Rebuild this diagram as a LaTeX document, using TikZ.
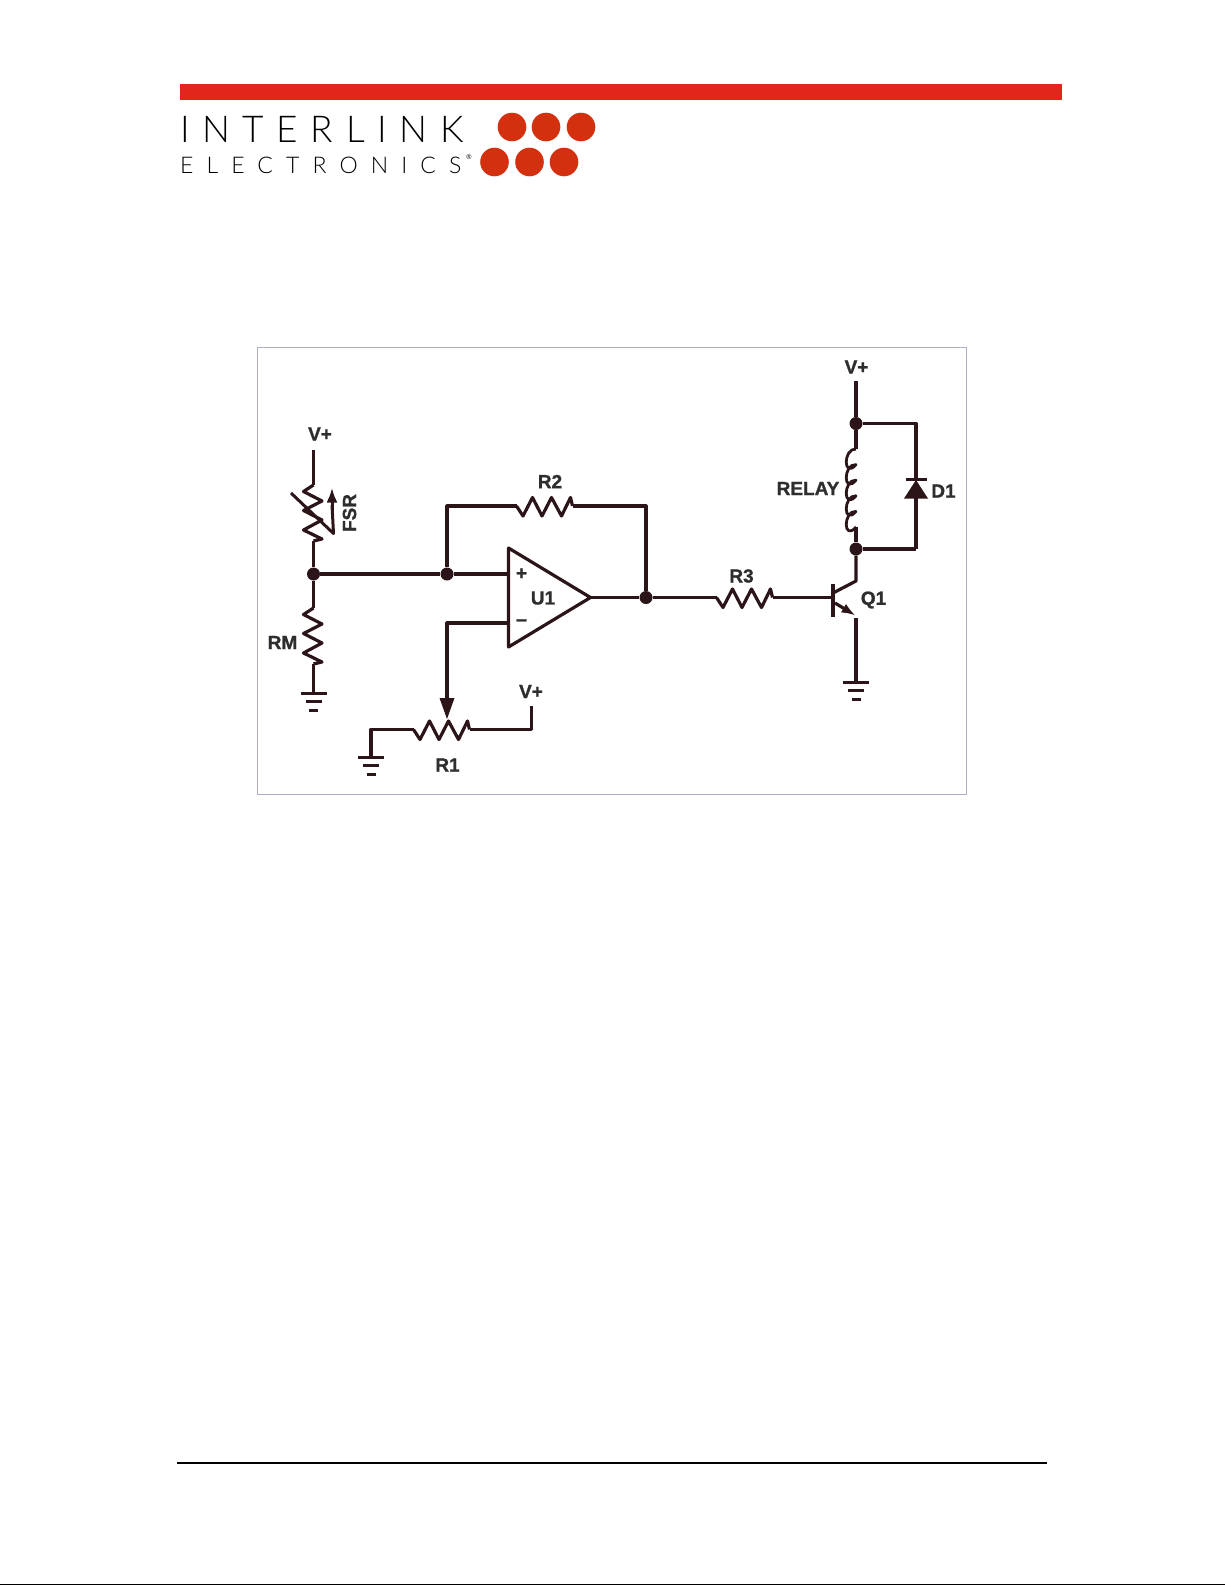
\documentclass[tikz,border=0pt]{standalone}
\usepackage{fontspec}
\setmainfont[BoldFeatures={FakeBold=1.2}]{Liberation Sans}
\newfontfamily\logotop[LetterSpace=34]{Lato Light}
\newfontfamily\logobot[LetterSpace=57]{Lato Light}
\usetikzlibrary{arrows.meta}
\definecolor{wirecol}{HTML}{2C1518}
\definecolor{textcol}{HTML}{2E2E2E}
\definecolor{framecol}{HTML}{ABB0C8}
\definecolor{barred}{HTML}{E2261B}
\definecolor{dotred}{HTML}{D2300F}
\tikzset{
  wire/.style={draw=wirecol,line width=3.2pt,line join=round},
  junction/.style={circle,fill=wirecol,inner sep=0pt,minimum size=13pt},
  lbl/.style={text=textcol,font=\bfseries\fontsize{19}{19}\selectfont,inner sep=0pt},
  resistorpic/.pic={
    \draw[wire] (0,0) -- (6.5,10) -- (16,-8.5) -- (25.5,10) -- (35,-8.5) -- (45,10) -- (54,-8.5) -- (56,0);
  },
  groundpic/.pic={
    \draw[wirecol,line width=3pt] (-13,0) -- (13,0);
    \draw[wirecol,line width=3pt] (-8,8.5) -- (8,8.5);
    \draw[wirecol,line width=3pt] (-4.5,17) -- (4.5,17);
  }
}
\begin{document}
\begin{tikzpicture}[x=1pt,y=-1pt]
  \useasboundingbox (0,0) rectangle (1225,1585);
  % page furniture
  \fill[barred] (180,84) rectangle (1062,100);
  \foreach \x in {512,546,581} \fill[dotred] (\x,127) circle(14.3);
  \foreach \x in {494.5,529.5,564} \fill[dotred] (\x,162) circle(14.3);
  \node[anchor=west,inner sep=0pt] (logoa) at (180,129.5)
    {\logotop\fontsize{37}{37}\selectfont INTERLINK};
  \node[anchor=west,inner sep=0pt] (logob) at (180,165)
    {\logobot\fontsize{23}{23}\selectfont ELECTRONICS};
  \node[inner sep=0pt,font=\fontsize{7}{7}\selectfont] (logoreg) at (469,157) {\textregistered};
  \draw[black,line width=1.3pt] (177,1463) -- (1047,1463);
  \draw[black,line width=1.3pt] (0,1584.4) -- (1225,1584.4);
  \draw[framecol,line width=1pt] (257.5,347) rectangle (966.5,794);

  % junctions
  \node[junction] (jleft) at (313.5,574) {};
  \node[junction] (jplus) at (447,574) {};
  \node[junction] (jout) at (646,597.5) {};
  \node[junction] (jtop) at (856,423.5) {};
  \node[junction] (jbot) at (856,549) {};

  % op amp
  \coordinate (ua) at (508.5,548);
  \coordinate (ub) at (508.5,647);
  \coordinate (uc) at (590.5,597.5);
  \draw[wire] (ua) -- (uc) -- (ub) -- cycle;
  \node[lbl] (uone) at (543,598) {U1};
  \node[lbl] (uplus) at (521.5,574) {+};
  \node[lbl] (uminus) at (521.5,623) {\textminus};

  % FSR and RM
  \node[lbl] (vleft) at (320,434) {V+};
  \coordinate (vlw) at (313.5,450);
  \coordinate (fsra) at (313.5,485);
  \coordinate (fsrb) at (313.5,541);
  \pic[rotate=-90] at (fsra) {resistorpic};
  \draw[wire] (vlw) -- (fsra) (fsrb) -- (jleft);
  \coordinate (slasha) at (291,493);
  \coordinate (slashb) at (333.5,533.5);
  \coordinate (arrowtop) at (332,487.5);
  \draw[wirecol,line width=3pt,line join=round] (slasha) -- (slashb) -- (332,505);
  \draw[wirecol,line width=3pt,-{Latex[length=15pt,width=11pt]}] (332,510) -- (arrowtop);
  \node[lbl,rotate=90] (fsrl) at (349.5,513) {FSR};
  \coordinate (rma) at (313.5,608);
  \coordinate (rmb) at (313.5,664);
  \coordinate (gndm) at (313.5,693);
  \pic[rotate=-90] at (rma) {resistorpic};
  \draw[wire] (jleft) -- (rma) (rmb) -- (gndm);
  \pic at (gndm) {groundpic};
  \node[lbl] (rml) at (282.5,642.5) {RM};

  % op amp inputs and feedback
  \draw[wire] (jleft) -- (jplus) -- (jplus -| ua);
  \coordinate (fba) at (447,506);
  \coordinate (rtwoa) at (516.5,506);
  \coordinate (rtwob) at (572.5,506);
  \coordinate (fbb) at (646,506);
  \pic at (rtwoa) {resistorpic};
  \draw[wire] (jplus) -- (fba) -- (rtwoa) (rtwob) -- (fbb) -- (jout);
  \node[lbl] (rtwol) at (550,481.5) {R2};
  \draw[wire] (uc) -- (jout);

  % R1 pot
  \coordinate (mina) at (508.5,623);
  \coordinate (minb) at (447,623);
  \coordinate (wiper) at (447,719);
  \draw[wire] (mina) -- (minb) -- (447,700);
  \fill[wirecol] (439.5,698) -- (454.5,698) -- (wiper) -- cycle;
  \coordinate (gndp) at (371,757);
  \coordinate (pota) at (413.5,729.5);
  \coordinate (potb) at (469.5,729.5);
  \coordinate (vpota) at (531.5,729.5);
  \coordinate (vpotb) at (531.5,706);
  \pic at (pota) {resistorpic};
  \draw[wire] (gndp) -- (371,729.5) -- (pota) (potb) -- (vpota) -- (vpotb);
  \pic at (gndp) {groundpic};
  \node[lbl] (vpot) at (531,691.5) {V+};
  \node[lbl] (rone) at (447.5,765) {R1};

  % R3 and transistor
  \coordinate (rthra) at (716.5,597.5);
  \coordinate (rthrb) at (772.5,597.5);
  \coordinate (base) at (832.5,597.5);
  \pic at (rthra) {resistorpic};
  \draw[wire] (jout) -- (rthra) (rthrb) -- (base);
  \node[lbl] (rthrl) at (741.5,576) {R3};
  \draw[wire] (833,584) -- (833,617);
  \coordinate (coll) at (856,581);
  \coordinate (emit) at (855.5,615.5);
  \coordinate (gndq) at (856,682);
  \draw[wire] (jbot) -- (coll) -- (834,592.5);
  \draw[wire,-{Latex[length=14pt,width=10pt]}] (835,603) -- (emit);
  \draw[wire] (856,618) -- (gndq);
  \pic at (gndq) {groundpic};
  \node[lbl] (qone) at (873.5,600) {Q1};

  % relay and diode
  \node[lbl] (vright) at (856.5,367) {V+};
  \coordinate (vrw) at (856,381);
  \coordinate (rlya) at (856,449);
  \coordinate (rlyb) at (856,527);
  \draw[wire] (vrw) -- (jtop) -- (rlya) (rlyb) -- (jbot);
  \draw[wire,line width=2.8pt] (rlya)
    \foreach \i in {0,...,4} {
      .. controls ++(-13,-1) and ++(-13,15) .. ++(0,15.6)
    };
  \node[lbl] (relayl) at (808,488.5) {RELAY};
  \coordinate (dtop) at (916,423.5);
  \coordinate (dbot) at (916,549);
  \coordinate (dapex) at (916,480);
  \draw[wire] (jtop) -- (dtop) -- (dapex) (dbot) -- (916,498) ;
  \draw[wire] (jbot) -- (dbot);
  \draw[wire] (905.5,479.5) -- (926.5,479.5);
  \fill[wirecol] (904,498.5) -- (928,498.5) -- (dapex) -- cycle;
  \node[lbl] (done) at (943.5,491) {D1};
\end{tikzpicture}
\end{document}
